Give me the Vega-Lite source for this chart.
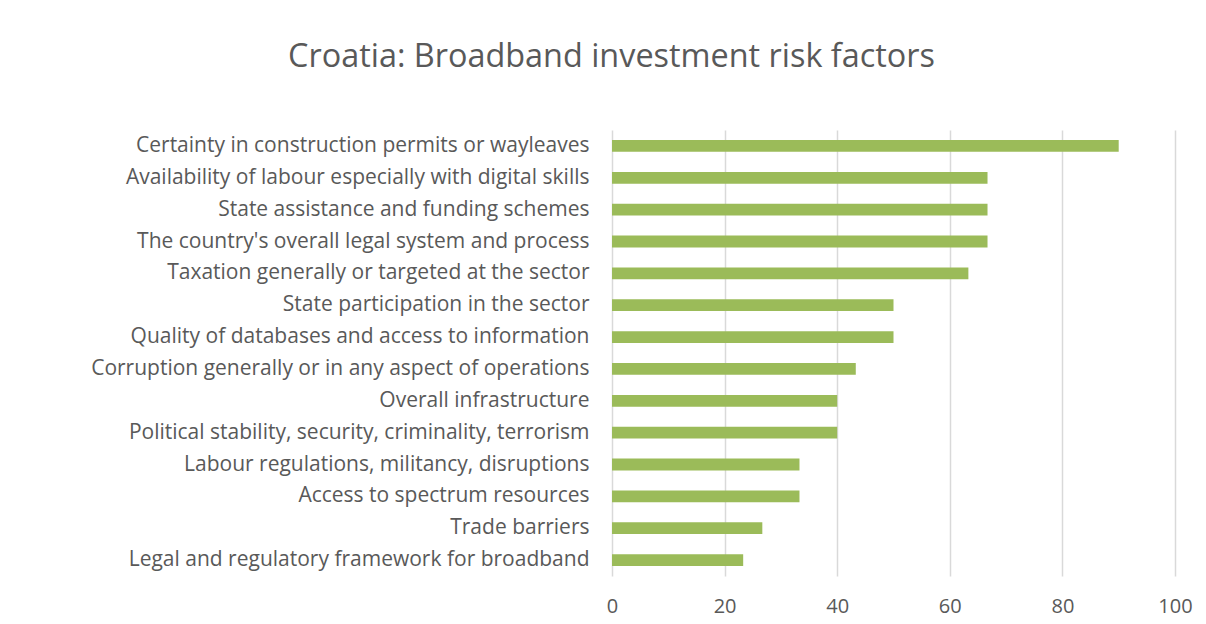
{
  "$schema": "https://vega.github.io/schema/vega-lite/v6.json",
  "width": 563,
  "height": 446,
  "autosize": {"type": "none"},
  "padding": {"left": 612, "top": 130, "right": 31, "bottom": 48},
  "background": "white",
  "title": {
    "text": "Croatia: Broadband investment risk factors",
    "font": "Open Sans",
    "fontSize": 32.4,
    "fontWeight": "normal",
    "color": "#595959",
    "anchor": "middle",
    "dx": -282,
    "offset": 57
  },
  "data": {
    "values": [
      {"factor": "Certainty in construction permits or wayleaves", "value": 90},
      {"factor": "Availability of labour especially with digital skills", "value": 66.7},
      {"factor": "State assistance and funding schemes", "value": 66.7},
      {"factor": "The country's overall legal system and process\u2002", "value": 66.7},
      {"factor": "Taxation generally or targeted at the sector", "value": 63.3},
      {"factor": "State participation in the sector", "value": 50},
      {"factor": "Quality of databases and access to information", "value": 50},
      {"factor": "Corruption generally or in any aspect of operations", "value": 43.3},
      {"factor": "Overall infrastructure", "value": 40},
      {"factor": "Political stability, security, criminality, terrorism", "value": 40},
      {"factor": "Labour regulations, militancy, disruptions", "value": 33.3},
      {"factor": "Access to spectrum resources", "value": 33.3},
      {"factor": "Trade barriers", "value": 26.7},
      {"factor": "Legal and regulatory framework for broadband", "value": 23.3}
    ]
  },
  "mark": {"type": "bar", "color": "#9BBB59"},
  "encoding": {
    "y": {
      "field": "factor",
      "type": "nominal",
      "sort": null,
      "scale": {"paddingInner": 0.63, "paddingOuter": 0.315},
      "axis": {
        "title": null,
        "ticks": false,
        "domain": false,
        "labelPadding": 23,
        "labelFont": "Open Sans",
        "labelFontSize": 21,
        "labelColor": "#595959",
        "labelLimit": 600
      }
    },
    "x": {
      "field": "value",
      "type": "quantitative",
      "scale": {"domain": [0, 100], "nice": false},
      "axis": {
        "title": null,
        "values": [0, 20, 40, 60, 80, 100],
        "ticks": false,
        "domain": false,
        "grid": true,
        "gridColor": "#d9d9d9",
        "gridWidth": 1.5,
        "labelFlush": false,
        "labelPadding": 20,
        "labelFont": "Open Sans",
        "labelFontSize": 20,
        "labelColor": "#595959"
      }
    }
  },
  "config": {"view": {"stroke": null}}
}
